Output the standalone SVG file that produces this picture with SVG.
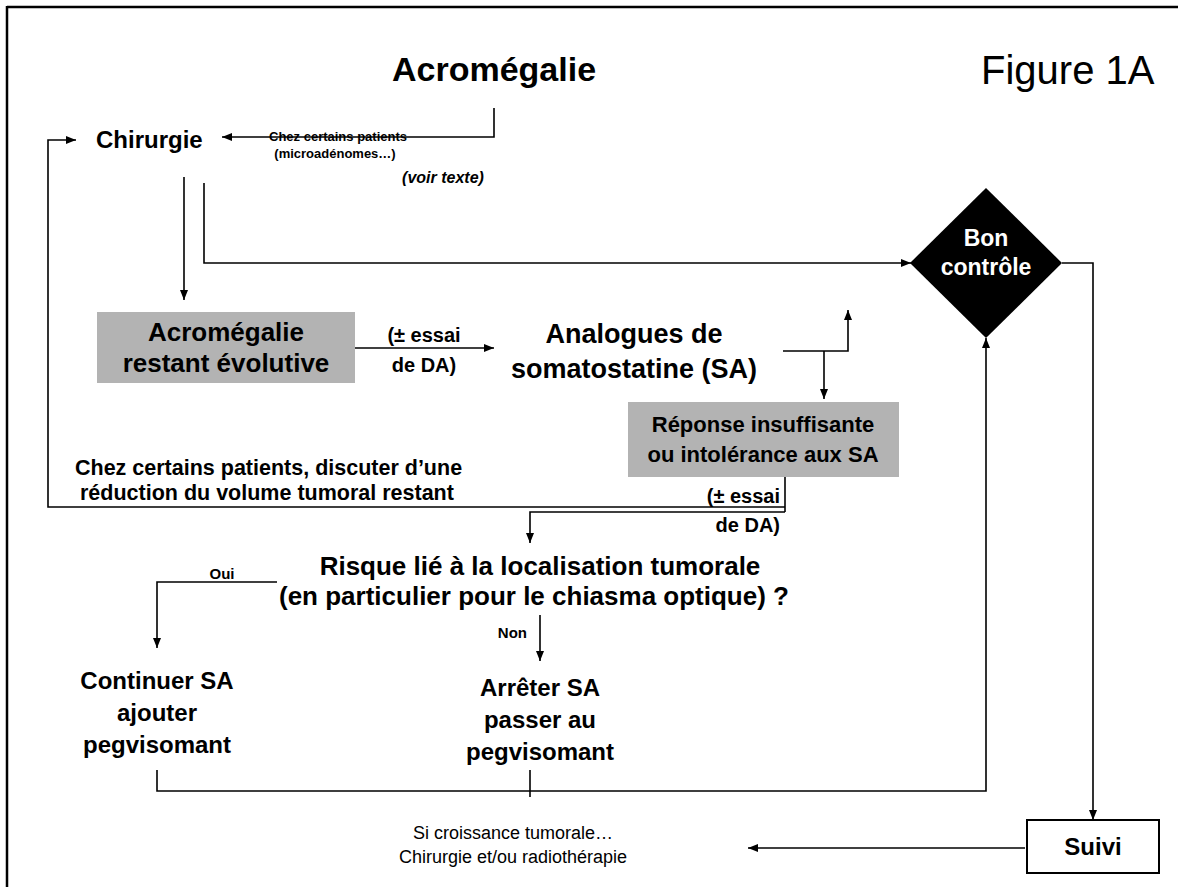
<svg xmlns="http://www.w3.org/2000/svg" width="1178" height="887" viewBox="0 0 1178 887">
<style>
text{font-family:"Liberation Sans",Arial,sans-serif;fill:#000}
.b{font-weight:bold}
.c{text-anchor:middle}
.ln{fill:none;stroke:#000;stroke-width:1.6}
.gbox{fill:#b3b3b3}
</style>
<defs>
<marker id="ah" markerUnits="userSpaceOnUse" markerWidth="10" markerHeight="8" refX="10" refY="4" orient="auto">
<path d="M0,0 L10,4 L0,8 z" fill="#000"/>
</marker>
</defs>
<rect x="0" y="0" width="1178" height="887" fill="#fff"/>
<g id="frame">
<line x1="7" y1="7" x2="1178" y2="7" stroke="#000" stroke-width="2.5"/>
<line x1="7" y1="6" x2="7" y2="887" stroke="#000" stroke-width="2.5"/>
</g>
<g id="connectors">
<polyline class="ln" points="494,108 494,137 222,137" marker-end="url(#ah)"/>
<polyline class="ln" points="785,507 48,507 48,140 76,140" marker-end="url(#ah)"/>
<line class="ln" x1="184" y1="177" x2="184" y2="300" marker-end="url(#ah)"/>
<polyline class="ln" points="204,183 204,263 911,263" marker-end="url(#ah)"/>
<line class="ln" x1="355" y1="348" x2="494" y2="348" marker-end="url(#ah)"/>
<polyline class="ln" points="783,351 848,351 848,310" marker-end="url(#ah)"/>
<line class="ln" x1="824" y1="351" x2="824" y2="399" marker-end="url(#ah)"/>
<line class="ln" x1="785" y1="477" x2="785" y2="512"/>
<polyline class="ln" points="785,512 530,512 530,543" marker-end="url(#ah)"/>
<polyline class="ln" points="277,582 157,582 157,648" marker-end="url(#ah)"/>
<line class="ln" x1="540" y1="615" x2="540" y2="661" marker-end="url(#ah)"/>
<polyline class="ln" points="157,770 157,791 986,791 986,338" marker-end="url(#ah)"/>
<line class="ln" x1="530" y1="770" x2="530" y2="797"/>
<polyline class="ln" points="1062,263 1093,263 1093,820" marker-end="url(#ah)"/>
<line class="ln" x1="1025" y1="848" x2="748" y2="848" marker-end="url(#ah)"/>
<text class="b c" x="338" y="141" font-size="13">Chez certains patients</text>
<text class="b c" x="335" y="158" font-size="13">(microadénomes…)</text>
<text class="b c" x="443" y="183" font-size="16" font-style="italic">(voir texte)</text>
<text class="b c" x="424" y="342" font-size="20">(± essai</text>
<text class="b c" x="424" y="372" font-size="20">de DA)</text>
<text class="b" x="780" y="503" font-size="20" text-anchor="end">(± essai</text>
<text class="b" x="780" y="532" font-size="20" text-anchor="end">de DA)</text>
<text class="b" x="75" y="475" font-size="21.5">Chez certains patients, discuter d’une</text>
<text class="b" x="80" y="500" font-size="21.5">réduction du volume tumoral restant</text>
<text class="b c" x="222" y="579" font-size="15">Oui</text>
<text class="b" x="527" y="638" font-size="15" text-anchor="end">Non</text>
</g>
<g id="title">
<text class="b c" x="494" y="81" font-size="34">Acromégalie</text>
</g>
<g id="figlabel">
<text x="981" y="84" font-size="40">Figure 1A</text>
</g>
<g id="chirurgie">
<text class="b" x="96" y="148" font-size="24">Chirurgie</text>
</g>
<g id="bon-controle">
<polygon points="986,188 1062,263 986,338 910,263" fill="#000"/>
<text class="b c" x="986" y="246" font-size="23" style="fill:#fff">Bon</text>
<text class="b c" x="986" y="275" font-size="23" style="fill:#fff">contrôle</text>
</g>
<g id="acro-evolutive">
<rect class="gbox" x="97" y="312" width="258" height="71"/>
<text class="b c" x="226" y="341" font-size="26">Acromégalie</text>
<text class="b c" x="226" y="372" font-size="26">restant évolutive</text>
</g>
<g id="analogues">
<text class="b c" x="634" y="343" font-size="27">Analogues de</text>
<text class="b c" x="634" y="378" font-size="27">somatostatine (SA)</text>
</g>
<g id="reponse">
<rect class="gbox" x="628" y="402" width="271" height="75"/>
<text class="b c" x="763" y="432" font-size="22">Réponse insuffisante</text>
<text class="b c" x="763" y="462" font-size="22">ou intolérance aux SA</text>
</g>
<g id="risque">
<text class="b c" x="540" y="575" font-size="26">Risque lié à la localisation tumorale</text>
<text class="b c" x="534" y="605" font-size="26">(en particulier pour le chiasma optique) ?</text>
</g>
<g id="continuer">
<text class="b c" x="157" y="689" font-size="24">Continuer SA</text>
<text class="b c" x="157" y="721" font-size="24">ajouter</text>
<text class="b c" x="157" y="753" font-size="24">pegvisomant</text>
</g>
<g id="arreter">
<text class="b c" x="540" y="696" font-size="24">Arrêter SA</text>
<text class="b c" x="540" y="728" font-size="24">passer au</text>
<text class="b c" x="540" y="760" font-size="24">pegvisomant</text>
</g>
<g id="suivi">
<rect x="1027" y="820" width="132" height="53" fill="#fff" stroke="#000" stroke-width="2"/>
<text class="b c" x="1093" y="855" font-size="24">Suivi</text>
</g>
<g id="croissance">
<text class="c" x="513" y="839" font-size="18">Si croissance tumorale…</text>
<text class="c" x="513" y="863" font-size="18">Chirurgie et/ou radiothérapie</text>
</g>
</svg>
